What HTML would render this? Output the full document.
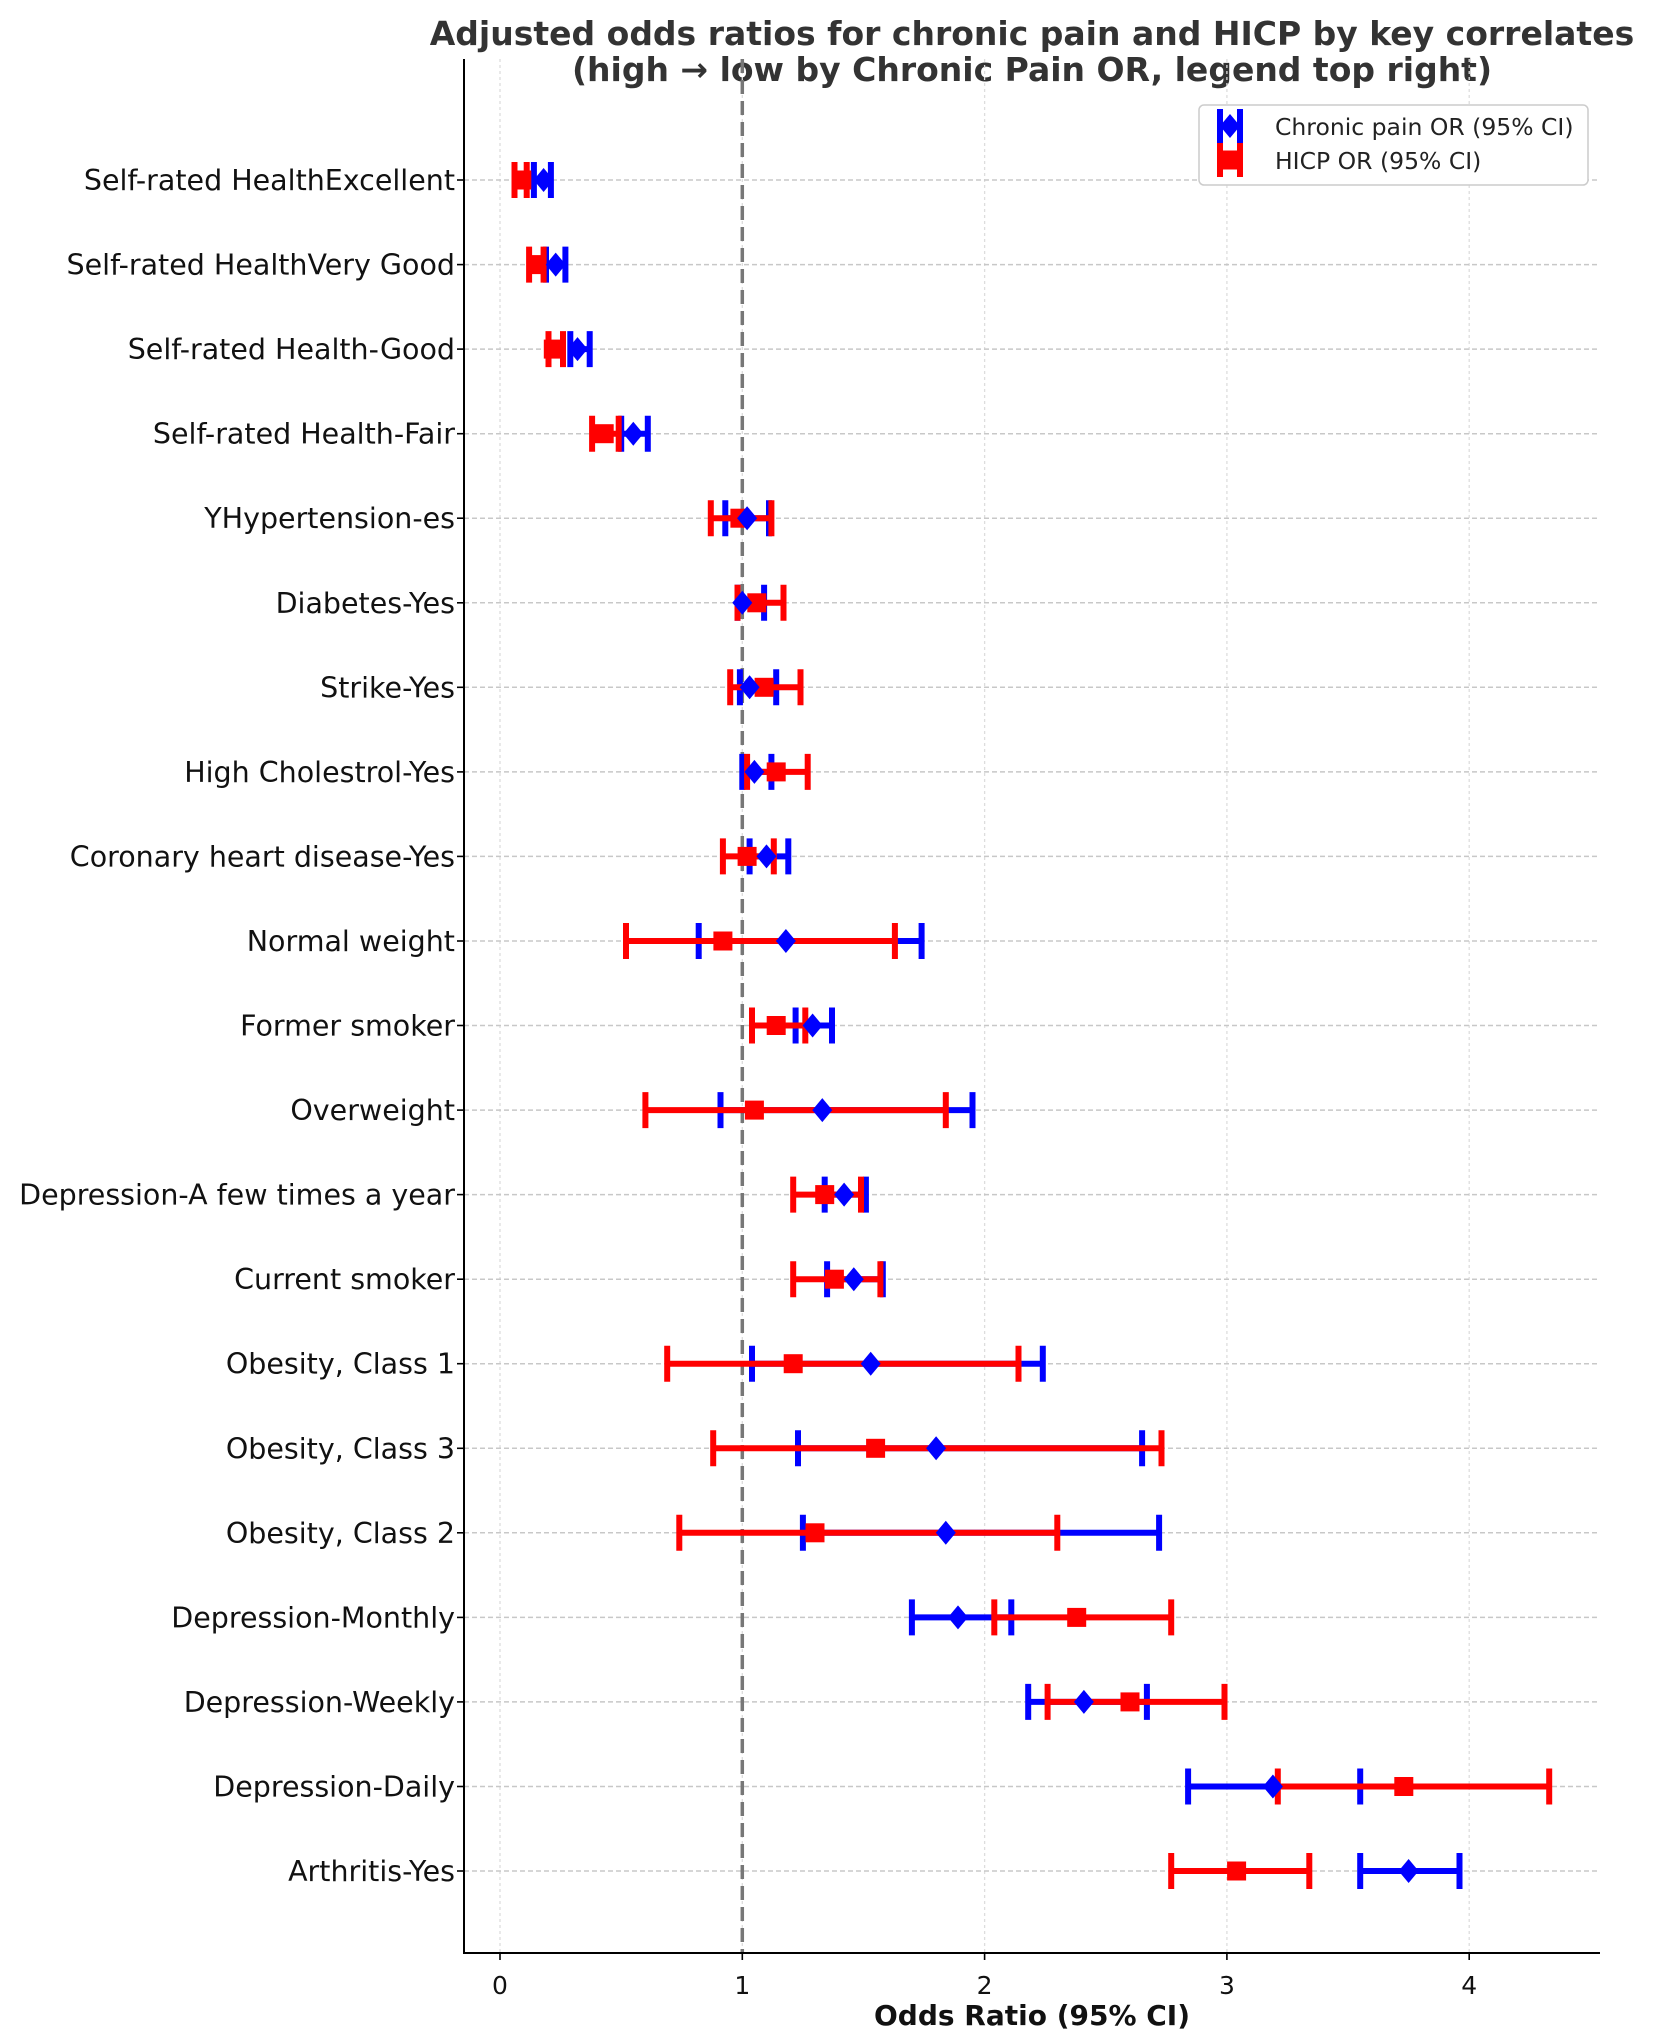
<!DOCTYPE html>
<html><head><meta charset="utf-8"><style>html,body{margin:0;padding:0;background:#fff}svg{display:block}</style></head>
<body>
<svg width="1657" height="2044" viewBox="0 0 1657 2044" xmlns="http://www.w3.org/2000/svg" font-family="DejaVu Sans, Liberation Sans, sans-serif">
<rect width="1657" height="2044" fill="#fff"/>
<text x="1032" y="45" text-anchor="middle" font-size="33" font-weight="bold" fill="#333">Adjusted odds ratios for chronic pain and HICP by key correlates</text>
<text x="1032" y="81" text-anchor="middle" font-size="33" font-weight="bold" fill="#333">(high → low by Chronic Pain OR, legend top right)</text>
<g stroke="#ddd" stroke-width="1.3" stroke-dasharray="3,3">
<line x1="500" y1="59" x2="500" y2="1953"/><line x1="742.3" y1="59" x2="742.3" y2="1953"/><line x1="984.6" y1="59" x2="984.6" y2="1953"/><line x1="1226.9" y1="59" x2="1226.9" y2="1953"/><line x1="1469.2" y1="59" x2="1469.2" y2="1953"/>
</g>
<g stroke="#c8c8c8" stroke-width="1.5" stroke-dasharray="5,3">
<line x1="464" y1="180" x2="1600" y2="180"/><line x1="464" y1="264.6" x2="1600" y2="264.6"/><line x1="464" y1="349.1" x2="1600" y2="349.1"/><line x1="464" y1="433.7" x2="1600" y2="433.7"/><line x1="464" y1="518.2" x2="1600" y2="518.2"/><line x1="464" y1="602.8" x2="1600" y2="602.8"/><line x1="464" y1="687.3" x2="1600" y2="687.3"/><line x1="464" y1="771.9" x2="1600" y2="771.9"/><line x1="464" y1="856.4" x2="1600" y2="856.4"/><line x1="464" y1="941" x2="1600" y2="941"/><line x1="464" y1="1025.5" x2="1600" y2="1025.5"/><line x1="464" y1="1110.1" x2="1600" y2="1110.1"/><line x1="464" y1="1194.6" x2="1600" y2="1194.6"/><line x1="464" y1="1279.2" x2="1600" y2="1279.2"/><line x1="464" y1="1363.7" x2="1600" y2="1363.7"/><line x1="464" y1="1448.3" x2="1600" y2="1448.3"/><line x1="464" y1="1532.8" x2="1600" y2="1532.8"/><line x1="464" y1="1617.4" x2="1600" y2="1617.4"/><line x1="464" y1="1701.9" x2="1600" y2="1701.9"/><line x1="464" y1="1786.5" x2="1600" y2="1786.5"/><line x1="464" y1="1871" x2="1600" y2="1871"/>
</g>
<line x1="742.3" y1="59" x2="742.3" y2="1953" stroke="#777" stroke-width="3.5" stroke-dasharray="14,7"/>
<defs>
<path id="d" d="M0,-12 L10,0 L0,12 L-10,0Z" fill="#0000ff"/>
<rect id="s" x="-9.5" y="-9.5" width="19" height="19" fill="#ff0000"/>
</defs>
<g stroke="#0000ff" stroke-width="6" fill="none">
<path d="M533.9,180H550.9M533.9,162V198M550.9,162V198"/>
<path d="M546,264.6H565.4M546,246.6V282.6M565.4,246.6V282.6"/>
<path d="M570.3,349.1H589.7M570.3,331.1V367.1M589.7,331.1V367.1"/>
<path d="M621.2,433.7H647.8M621.2,415.7V451.7M647.8,415.7V451.7"/>
<path d="M725.3,518.2H769M725.3,500.2V536.2M769,500.2V536.2"/>
<path d="M737.5,602.8H764.1M737.5,584.8V620.8M764.1,584.8V620.8"/>
<path d="M739.9,687.3H776.2M739.9,669.3V705.3M776.2,669.3V705.3"/>
<path d="M742.3,771.9H771.4M742.3,753.9V789.9M771.4,753.9V789.9"/>
<path d="M749.6,856.4H788.3M749.6,838.4V874.4M788.3,838.4V874.4"/>
<path d="M698.7,941H921.6M698.7,923V959M921.6,923V959"/>
<path d="M795.6,1025.5H832M795.6,1007.5V1043.5M832,1007.5V1043.5"/>
<path d="M720.5,1110.1H972.5M720.5,1092.1V1128.1M972.5,1092.1V1128.1"/>
<path d="M824.7,1194.6H865.9M824.7,1176.6V1212.6M865.9,1176.6V1212.6"/>
<path d="M827.1,1279.2H882.8M827.1,1261.2V1297.2M882.8,1261.2V1297.2"/>
<path d="M752,1363.7H1042.8M752,1345.7V1381.7M1042.8,1345.7V1381.7"/>
<path d="M798,1448.3H1142.1M798,1430.3V1466.3M1142.1,1430.3V1466.3"/>
<path d="M802.9,1532.8H1159.1M802.9,1514.8V1550.8M1159.1,1514.8V1550.8"/>
<path d="M911.9,1617.4H1011.3M911.9,1599.4V1635.4M1011.3,1599.4V1635.4"/>
<path d="M1028.2,1701.9H1146.9M1028.2,1683.9V1719.9M1146.9,1683.9V1719.9"/>
<path d="M1188.1,1786.5H1360.2M1188.1,1768.5V1804.5M1360.2,1768.5V1804.5"/>
<path d="M1360.2,1871H1459.5M1360.2,1853V1889M1459.5,1853V1889"/>
</g>
<g stroke="#ff0000" stroke-width="6" fill="none">
<path d="M514.5,180H526.7M514.5,162V198M526.7,162V198"/>
<path d="M529.1,264.6H543.6M529.1,246.6V282.6M543.6,246.6V282.6"/>
<path d="M548.5,349.1H563M548.5,331.1V367.1M563,331.1V367.1"/>
<path d="M592.1,433.7H618.7M592.1,415.7V451.7M618.7,415.7V451.7"/>
<path d="M710.8,518.2H771.4M710.8,500.2V536.2M771.4,500.2V536.2"/>
<path d="M737.5,602.8H783.5M737.5,584.8V620.8M783.5,584.8V620.8"/>
<path d="M730.2,687.3H800.5M730.2,669.3V705.3M800.5,669.3V705.3"/>
<path d="M747.1,771.9H807.7M747.1,753.9V789.9M807.7,753.9V789.9"/>
<path d="M722.9,856.4H773.8M722.9,838.4V874.4M773.8,838.4V874.4"/>
<path d="M626,941H894.9M626,923V959M894.9,923V959"/>
<path d="M752,1025.5H805.3M752,1007.5V1043.5M805.3,1007.5V1043.5"/>
<path d="M645.4,1110.1H945.8M645.4,1092.1V1128.1M945.8,1092.1V1128.1"/>
<path d="M793.2,1194.6H861M793.2,1176.6V1212.6M861,1176.6V1212.6"/>
<path d="M793.2,1279.2H880.4M793.2,1261.2V1297.2M880.4,1261.2V1297.2"/>
<path d="M667.2,1363.7H1018.5M667.2,1345.7V1381.7M1018.5,1345.7V1381.7"/>
<path d="M713.2,1448.3H1161.5M713.2,1430.3V1466.3M1161.5,1430.3V1466.3"/>
<path d="M679.3,1532.8H1057.3M679.3,1514.8V1550.8M1057.3,1514.8V1550.8"/>
<path d="M994.3,1617.4H1171.2M994.3,1599.4V1635.4M1171.2,1599.4V1635.4"/>
<path d="M1047.6,1701.9H1224.5M1047.6,1683.9V1719.9M1224.5,1683.9V1719.9"/>
<path d="M1277.8,1786.5H1549.2M1277.8,1768.5V1804.5M1549.2,1768.5V1804.5"/>
<path d="M1171.2,1871H1309.3M1171.2,1853V1889M1309.3,1853V1889"/>
</g>
<use href="#s" x="521.8" y="180"/><use href="#s" x="536.3" y="264.6"/><use href="#s" x="553.3" y="349.1"/><use href="#s" x="604.2" y="433.7"/><use href="#s" x="739.9" y="518.2"/><use href="#s" x="756.8" y="602.8"/><use href="#s" x="764.1" y="687.3"/><use href="#s" x="776.2" y="771.9"/><use href="#s" x="747.1" y="856.4"/><use href="#s" x="722.9" y="941"/><use href="#s" x="776.2" y="1025.5"/><use href="#s" x="754.4" y="1110.1"/><use href="#s" x="824.7" y="1194.6"/><use href="#s" x="834.4" y="1279.2"/><use href="#s" x="793.2" y="1363.7"/><use href="#s" x="875.6" y="1448.3"/><use href="#s" x="815" y="1532.8"/><use href="#s" x="1076.7" y="1617.4"/><use href="#s" x="1130" y="1701.9"/><use href="#s" x="1403.8" y="1786.5"/><use href="#s" x="1236.6" y="1871"/>
<use href="#d" x="543.6" y="180"/><use href="#d" x="555.7" y="264.6"/><use href="#d" x="577.5" y="349.1"/><use href="#d" x="633.3" y="433.7"/><use href="#d" x="747.1" y="518.2"/><use href="#d" x="742.3" y="602.8"/><use href="#d" x="749.6" y="687.3"/><use href="#d" x="754.4" y="771.9"/><use href="#d" x="766.5" y="856.4"/><use href="#d" x="785.9" y="941"/><use href="#d" x="812.6" y="1025.5"/><use href="#d" x="822.3" y="1110.1"/><use href="#d" x="844.1" y="1194.6"/><use href="#d" x="853.8" y="1279.2"/><use href="#d" x="870.7" y="1363.7"/><use href="#d" x="936.1" y="1448.3"/><use href="#d" x="945.8" y="1532.8"/><use href="#d" x="958" y="1617.4"/><use href="#d" x="1083.9" y="1701.9"/><use href="#d" x="1272.9" y="1786.5"/><use href="#d" x="1408.6" y="1871"/>
<line x1="464" y1="59" x2="464" y2="1953" stroke="#000" stroke-width="2"/>
<line x1="463" y1="1953" x2="1600" y2="1953" stroke="#000" stroke-width="2"/>
<g stroke="#000" stroke-width="1.6">
<line x1="500" y1="1953" x2="500" y2="1960"/><line x1="742.3" y1="1953" x2="742.3" y2="1960"/><line x1="984.6" y1="1953" x2="984.6" y2="1960"/><line x1="1226.9" y1="1953" x2="1226.9" y2="1960"/><line x1="1469.2" y1="1953" x2="1469.2" y2="1960"/>
</g>
<g font-size="25" fill="#111" text-anchor="middle">
<text x="500" y="1994">0</text><text x="742.3" y="1994">1</text><text x="984.6" y="1994">2</text><text x="1226.9" y="1994">3</text><text x="1469.2" y="1994">4</text>
</g>
<text x="1032" y="2025" text-anchor="middle" font-size="28" font-weight="bold" fill="#111">Odds Ratio (95% CI)</text>
<g font-size="28.5" fill="#111" text-anchor="end">
<text x="455" y="190">Self-rated HealthExcellent</text>
<text x="455" y="274.6">Self-rated HealthVery Good</text>
<text x="455" y="359">Self-rated Health-Good</text>
<text x="455" y="443.7">Self-rated Health-Fair</text>
<text x="455" y="528.2">YHypertension-es</text>
<text x="455" y="612.8">Diabetes-Yes</text>
<text x="455" y="697.3">Strike-Yes</text>
<text x="455" y="781.9">High Cholestrol-Yes</text>
<text x="455" y="866.4">Coronary heart disease-Yes</text>
<text x="455" y="951">Normal weight</text>
<text x="455" y="1035.5">Former smoker</text>
<text x="455" y="1120.1">Overweight</text>
<text x="455" y="1204.6">Depression-A few times a year</text>
<text x="455" y="1289.2">Current smoker</text>
<text x="455" y="1373.7">Obesity, Class 1</text>
<text x="455" y="1458.3">Obesity, Class 3</text>
<text x="455" y="1542.8">Obesity, Class 2</text>
<text x="455" y="1627.4">Depression-Monthly</text>
<text x="455" y="1711.9">Depression-Weekly</text>
<text x="455" y="1796.5">Depression-Daily</text>
<text x="455" y="1881">Arthritis-Yes</text>
</g>
<g stroke="#000" stroke-width="1.6">
<line x1="457" y1="180" x2="464" y2="180"/><line x1="457" y1="264.6" x2="464" y2="264.6"/><line x1="457" y1="349.1" x2="464" y2="349.1"/><line x1="457" y1="433.7" x2="464" y2="433.7"/><line x1="457" y1="518.2" x2="464" y2="518.2"/><line x1="457" y1="602.8" x2="464" y2="602.8"/><line x1="457" y1="687.3" x2="464" y2="687.3"/><line x1="457" y1="771.9" x2="464" y2="771.9"/><line x1="457" y1="856.4" x2="464" y2="856.4"/><line x1="457" y1="941" x2="464" y2="941"/><line x1="457" y1="1025.5" x2="464" y2="1025.5"/><line x1="457" y1="1110.1" x2="464" y2="1110.1"/><line x1="457" y1="1194.6" x2="464" y2="1194.6"/><line x1="457" y1="1279.2" x2="464" y2="1279.2"/><line x1="457" y1="1363.7" x2="464" y2="1363.7"/><line x1="457" y1="1448.3" x2="464" y2="1448.3"/><line x1="457" y1="1532.8" x2="464" y2="1532.8"/><line x1="457" y1="1617.4" x2="464" y2="1617.4"/><line x1="457" y1="1701.9" x2="464" y2="1701.9"/><line x1="457" y1="1786.5" x2="464" y2="1786.5"/><line x1="457" y1="1871" x2="464" y2="1871"/>
</g>
<rect x="1199" y="105" width="389" height="80" rx="5" fill="#fff" stroke="#ccc" stroke-width="1.5"/>
<g stroke="#0000ff" stroke-width="6"><path d="M1220,109V143M1240,109V143M1220,126H1240"/></g>
<use href="#d" x="1230" y="126"/>
<g stroke="#ff0000" stroke-width="6"><path d="M1220,143V177M1240,143V177M1220,160H1240"/></g>
<use href="#s" x="1230" y="160"/>
<text x="1275" y="135" font-size="23.5" fill="#222">Chronic pain OR (95% CI)</text>
<text x="1275" y="169" font-size="23.5" fill="#222">HICP OR (95% CI)</text>
</svg>
</body></html>
